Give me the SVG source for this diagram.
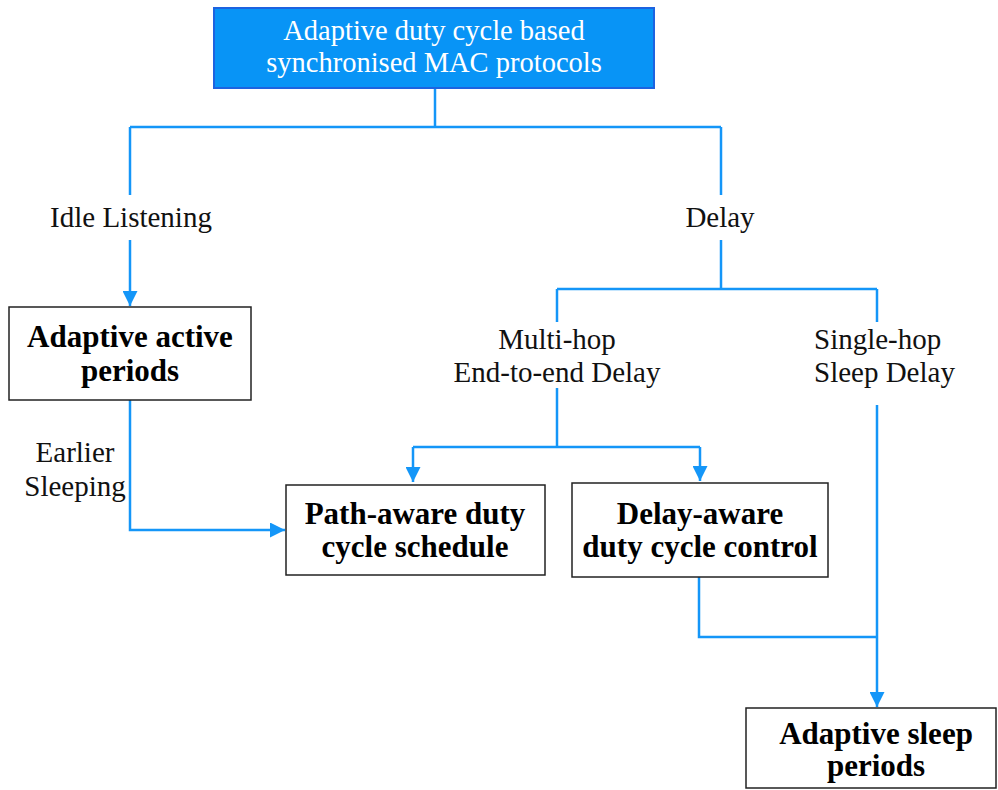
<svg xmlns="http://www.w3.org/2000/svg" width="998" height="790" viewBox="0 0 998 790">
<style>
.box{fill:#fff;stroke:#222;stroke-width:1.5}
.b{font-family:"Liberation Serif",serif;font-weight:bold;font-size:31px;fill:#000;text-anchor:middle}
.t{font-family:"Liberation Serif",serif;font-size:29px;fill:#111;text-anchor:middle}
.l{text-anchor:start}
.w{font-family:"Liberation Serif",serif;font-size:28.5px;fill:#fff;text-anchor:middle}
.c{fill:none;stroke:#1496f8;stroke-width:2.5}
</style>
<defs>
<marker id="ah" viewBox="0 0 10 10" refX="10" refY="5" markerWidth="6" markerHeight="6" orient="auto" markerUnits="strokeWidth">
<path d="M0,0 L10,5 L0,10 z" fill="#1496f8"/>
</marker>
</defs>
<rect width="998" height="790" fill="#fff"/>
<g id="connectors">
<path class="c" d="M435,88 V127"/>
<path class="c" d="M130,127 H721"/>
<path class="c" d="M130,127 V195"/>
<path class="c" d="M130,240 V306" marker-end="url(#ah)"/>
<path class="c" d="M721,127 V195"/>
<path class="c" d="M721,240 V289"/>
<path class="c" d="M557,289 H877"/>
<path class="c" d="M557,289 V322"/>
<path class="c" d="M877,289 V322"/>
<path class="c" d="M557,388 V447"/>
<path class="c" d="M413,447 H700"/>
<path class="c" d="M413,447 V482" marker-end="url(#ah)"/>
<path class="c" d="M700,447 V481" marker-end="url(#ah)"/>
<path class="c" d="M130,400 V530 H285" marker-end="url(#ah)"/>
<path class="c" d="M699,577 V637 H877"/>
<path class="c" d="M877,405 V707" marker-end="url(#ah)"/>
</g>
<g id="root">
<rect x="214" y="8" width="440" height="80" fill="#0894f6" stroke="#1d63e0" stroke-width="2"/>
<text class="w" x="434" y="40">Adaptive duty cycle based</text>
<text class="w" x="434" y="72">synchronised MAC protocols</text>
</g>
<g id="label-idle"><text class="t" x="131" y="227">Idle Listening</text></g>
<g id="label-delay"><text class="t" x="720" y="227">Delay</text></g>
<g id="label-multihop">
<text class="t" x="557" y="349">Multi-hop</text>
<text class="t" x="557" y="382">End-to-end Delay</text>
</g>
<g id="label-singlehop">
<text class="t l" x="814" y="349">Single-hop</text>
<text class="t l" x="814" y="382">Sleep Delay</text>
</g>
<g id="label-earlier">
<text class="t" x="75" y="462">Earlier</text>
<text class="t" x="75" y="496">Sleeping</text>
</g>
<g id="active">
<rect class="box" x="9" y="307" width="242" height="93"/>
<text class="b" x="130" y="347">Adaptive active</text>
<text class="b" x="130" y="381">periods</text>
</g>
<g id="path-aware">
<rect class="box" x="286" y="485" width="259" height="90"/>
<text class="b" x="415" y="524">Path-aware duty</text>
<text class="b" x="415" y="557">cycle schedule</text>
</g>
<g id="delay-aware">
<rect class="box" x="572" y="483" width="256" height="94"/>
<text class="b" x="700" y="524">Delay-aware</text>
<text class="b" x="700" y="557">duty cycle control</text>
</g>
<g id="sleep">
<rect class="box" x="746" y="708" width="250" height="80"/>
<text class="b" x="876" y="744">Adaptive sleep</text>
<text class="b" x="876" y="776">periods</text>
</g>
</svg>
